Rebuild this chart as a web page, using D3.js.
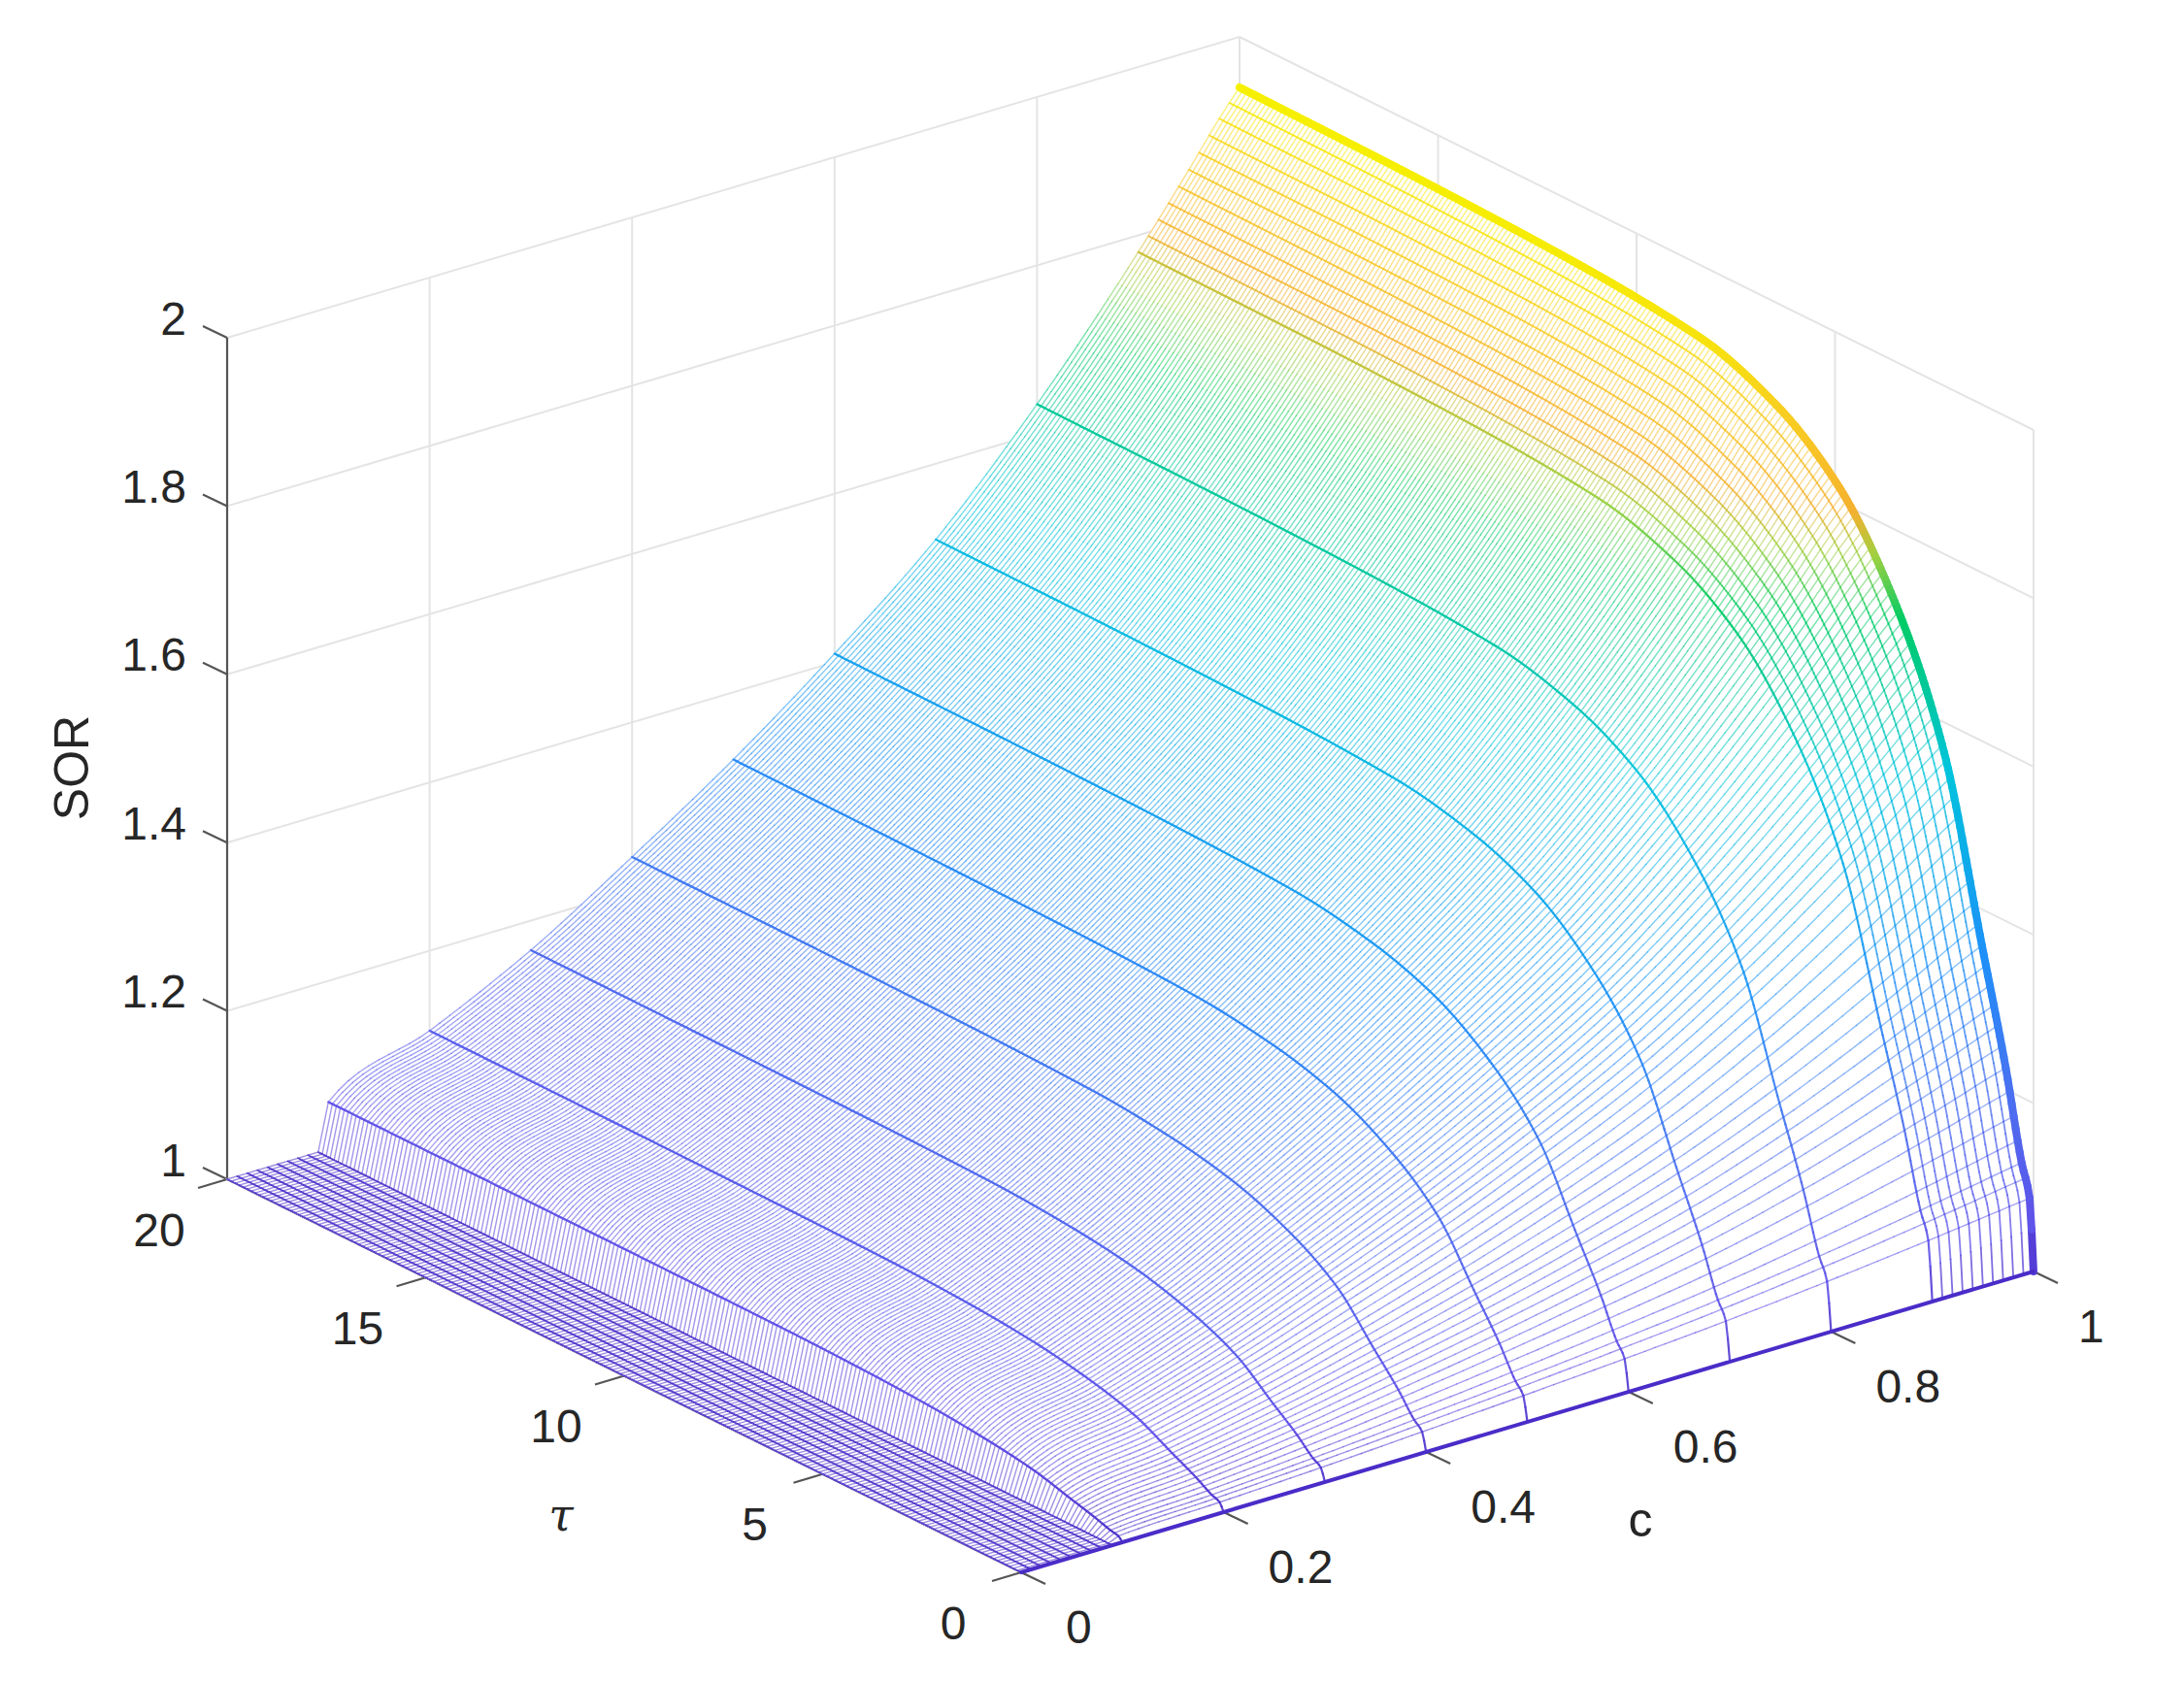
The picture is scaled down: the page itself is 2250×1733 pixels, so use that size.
<!DOCTYPE html>
<html><head><meta charset="utf-8">
<script src="https://cdn.jsdelivr.net/npm/d3@7"></script>
<style>body{margin:0;background:#fff}svg{display:block}</style>
</head><body>
<svg id="chart" width="2250" height="1733"></svg>
<script>
// ---- data ----
const cKnots      = [0, 0.09, 0.10, 0.2, 0.3, 0.4, 0.5, 0.6, 0.7, 0.8, 0.9, 0.95, 0.98, 1.0];
const plateauSOR  = [1, 1.0, 1.056, 1.105, 1.165, 1.24, 1.32, 1.41, 1.51, 1.635, 1.78, 1.86, 1.91, 1.94];
const tauKnots    = [0, 0.1, 0.3, 0.7, 1.3, 2.25, 3.4, 4.9, 6.5, 8.4, 12, 16, 20];
const riseProfile = [0, 0.09, 0.13, 0.24, 0.38, 0.6, 0.75, 0.87, 0.935, 0.972, 0.99, 0.997, 1];
const zTicks   = [1, 1.2, 1.4, 1.6, 1.8, 2];
const tauTicks = [0, 5, 10, 15, 20];
const cTicks   = [0, 0.2, 0.4, 0.6, 0.8, 1];
const zColorStops = [1.0, 1.05, 1.2, 1.35, 1.55, 1.7, 1.76, 1.80, 1.88, 1.94];
const zColors     = ["#4a2cc8","#6050e8","#4a70f0","#1e90f8","#00c4dc","#00cc66","#a0d040","#f5b030","#f8d020","#f6f000"];

// monotone cubic (Fritsch–Carlson) through read knots
function monotone(xs, ys){
  const n=xs.length, d=[], h=[], m=new Array(n);
  for(let i=0;i<n-1;i++){ h.push(xs[i+1]-xs[i]); d.push((ys[i+1]-ys[i])/h[i]); }
  m[0]=d[0]; m[n-1]=d[n-2];
  for(let i=1;i<n-1;i++) m[i]=(d[i-1]*d[i]<=0)?0:(3*(h[i-1]+h[i]))/((2*h[i]+h[i-1])/d[i-1]+(h[i]+2*h[i-1])/d[i]);
  return x=>{
    let i=d3.bisectRight(xs,x)-1; i=Math.max(0,Math.min(n-2,i));
    const hh=h[i], t=(x-xs[i])/hh, t2=t*t, t3=t2*t;
    return (2*t3-3*t2+1)*ys[i]+(t3-2*t2+t)*hh*m[i]+(-2*t3+3*t2)*ys[i+1]+(t3-t2)*hh*m[i+1];
  };
}
const plateau = monotone(cKnots, plateauSOR);
const profile = monotone(tauKnots, riseProfile);
const color = d3.scaleLinear().domain(zColorStops).range(zColors).clamp(true);
const cx = d3.scaleLinear().domain([0,1]).range([0,1043]);
const cy = d3.scaleLinear().domain([0,1]).range([0,-310]);
const tx = d3.scaleLinear().domain([0,20]).range([0,-818]);
const ty = d3.scaleLinear().domain([0,20]).range([0,-405]);
const zy = d3.scaleLinear().domain([1,2]).range([0,-867]);
const O = [1052,1620];
const P = (c,t,z) => [O[0]+cx(c)+tx(t), O[1]+cy(c)+ty(t)+zy(z)];
const Z = (c,t) => 1 + (plateau(c)-1)*profile(t);

const svg = d3.select("#chart");
const font = "'Liberation Sans', Arial, Helvetica, sans-serif";

// ---- grid (back walls) ----
const g0 = svg.append("g").attr("stroke","#e4e4e4").attr("stroke-width",2).attr("fill","none");
zTicks.forEach(z=>{
  g0.append("line").attr("x1",P(0,20,z)[0]).attr("y1",P(0,20,z)[1]).attr("x2",P(1,20,z)[0]).attr("y2",P(1,20,z)[1]);
  g0.append("line").attr("x1",P(1,20,z)[0]).attr("y1",P(1,20,z)[1]).attr("x2",P(1,0,z)[0]).attr("y2",P(1,0,z)[1]);
});
cTicks.forEach(c=>{ if(c>0) g0.append("line").attr("x1",P(c,20,1)[0]).attr("y1",P(c,20,1)[1]).attr("x2",P(c,20,2)[0]).attr("y2",P(c,20,2)[1]); });
tauTicks.forEach(t=>{ g0.append("line").attr("x1",P(1,t,1)[0]).attr("y1",P(1,t,1)[1]).attr("x2",P(1,t,2)[0]).attr("y2",P(1,t,2)[1]); });

// ---- axes ----
const ax = svg.append("g").attr("stroke","#555").attr("stroke-width",2.2).attr("fill","none");
const line2 = (a,b)=>ax.append("line").attr("x1",a[0]).attr("y1",a[1]).attr("x2",b[0]).attr("y2",b[1]);
line2(P(0,20,1),P(0,20,2));
line2(P(0,20,1),P(0,0,1));
line2(P(0,0,1),P(1,0,1));
zTicks.forEach(z=>{const a=P(0,20,z); line2(a,[a[0]-25,a[1]-12]);});
tauTicks.forEach(t=>{const a=P(0,t,1); line2(a,[a[0]-30,a[1]+9]);});
cTicks.forEach(c=>{const a=P(c,0,1); line2(a,[a[0]+25,a[1]+12]);});

// ---- surface ----
const cGrid = d3.range(0,101).map(i=>i/100);
const tGrid = d3.range(0,201).map(i=>i/10);
const fills = svg.append("g");
for(let j=0;j<tGrid.length-1;j++){
  const a = cGrid.map(c=>P(c,tGrid[j],Z(c,tGrid[j])));
  const b = cGrid.map(c=>P(c,tGrid[j+1],Z(c,tGrid[j+1]))).reverse();
  fills.append("path").attr("d","M"+a.concat(b).map(p=>p.join(",")).join("L")+"Z")
    .attr("fill","#fff").attr("stroke","#fff").attr("stroke-width",1.5);
}
const lines = svg.append("g").attr("stroke-linecap","round");
// iso-tau lines (dense)
tGrid.forEach(t=>{
  for(let i=0;i<cGrid.length-1;i++){
    const c0=cGrid[i], c1=cGrid[i+1], z0=Z(c0,t), z1=Z(c1,t);
    const a=P(c0,t,z0), b=P(c1,t,z1);
    lines.append("line").attr("x1",a[0]).attr("y1",a[1]).attr("x2",b[0]).attr("y2",b[1])
      .attr("stroke",color((z0+z1)/2)).attr("stroke-width",1.4).attr("stroke-opacity",0.55);
  }
});
// iso-c lines
const cLines = d3.range(0,10).map(i=>i/100).concat(d3.range(1,10).map(i=>i/10)).concat(d3.range(91,101).map(i=>i/100));
const tFine = d3.range(0,401).map(i=>i/20);
cLines.forEach(c=>{
  const major = Math.abs(c*10-Math.round(c*10))<1e-6 && c>0.05;
  for(let i=0;i<tFine.length-1;i++){
    const t0=tFine[i], t1=tFine[i+1], z0=Z(c,t0), z1=Z(c,t1);
    const a=P(c,t0,z0), b=P(c,t1,z1);
    lines.append("line").attr("x1",a[0]).attr("y1",a[1]).attr("x2",b[0]).attr("y2",b[1])
      .attr("stroke",color((z0+z1)/2))
      .attr("stroke-width", c===1 ? 8 : (major?2.2:1.8))
      .attr("stroke-opacity", c===1 ? 1 : (major?0.9:0.75));
  }
});
// front edge tau=0
lines.append("line").attr("x1",P(0,0,1)[0]).attr("y1",P(0,0,1)[1]).attr("x2",P(1,0,1)[0]).attr("y2",P(1,0,1)[1])
  .attr("stroke","#4a2cc8").attr("stroke-width",4);

// ---- labels ----
const lab = svg.append("g").attr("font-family",font).attr("font-size",48).attr("fill","#262626");
zTicks.forEach(z=>{const a=P(0,20,z); lab.append("text").attr("x",a[0]-42).attr("y",a[1]-16).attr("text-anchor","end").attr("dominant-baseline","middle").text(d3.format("~g")(z));});
tauTicks.forEach(t=>{const a=P(0,t,1); lab.append("text").attr("x",a[0]-70).attr("y",a[1]+56).attr("text-anchor","middle").attr("dominant-baseline","middle").text(t);});
cTicks.forEach(c=>{const a=P(c,0,1); lab.append("text").attr("x",a[0]+46).attr("y",a[1]+60).attr("text-anchor","start").attr("dominant-baseline","middle").text(d3.format("~g")(c));});
lab.append("text").attr("x",578).attr("y",1565).attr("text-anchor","middle").attr("dominant-baseline","middle")
  .attr("font-family","'DejaVu Serif', serif").attr("font-style","italic").attr("font-size",46).text("τ");
lab.append("text").attr("x",1690).attr("y",1570).attr("text-anchor","middle").attr("dominant-baseline","middle").attr("font-size",50).text("c");
lab.append("text").attr("transform","translate(78,791) rotate(-90)").attr("text-anchor","middle").attr("dominant-baseline","middle").attr("font-size",50).text("SOR");
</script>
</body></html>
